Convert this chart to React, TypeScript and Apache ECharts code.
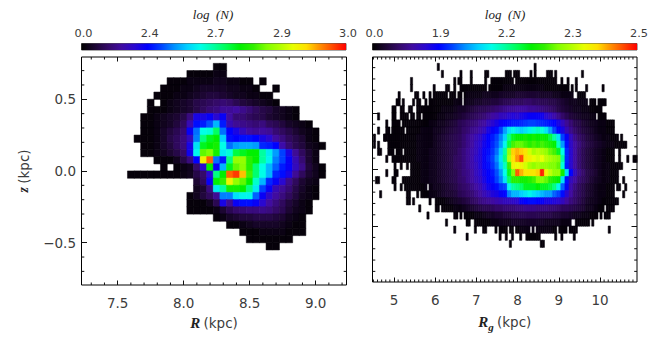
import React, { useEffect, useRef } from "react";
import * as echarts from "echarts";

// Colour table, evenly spaced over the colour bar (0..100 % of its length)
const palette = [
  "#000000", "#1c0632", "#340a68", "#400ca0", "#2a08d0", "#0000ff", "#0040ff",
  "#0090ff", "#00d0ff", "#00ffe8", "#00ffa0", "#00ff50", "#00f000", "#30f000",
  "#80ff00", "#b0ff00", "#e8ff00", "#ffe000", "#ff9000", "#ff4800", "#ff0000",
];

const barPositions = [0, 0.25, 0.5, 0.75, 1];
const leftBarLabels = ["0.0", "2.4", "2.7", "2.9", "3.0"];
const rightBarLabels = ["0.0", "1.9", "2.2", "2.3", "2.5"];

const leftXTicks = [7.5, 8, 8.5, 9];
const leftXMinor = [7.3, 7.4, 7.6, 7.7, 7.8, 7.9, 8.1, 8.2, 8.3, 8.4, 8.6, 8.7, 8.8, 8.9, 9.1, 9.2];
const leftYTicks = [-0.5, 0, 0.5];
const leftYMinor = [-0.7, -0.6, -0.4, -0.3, -0.2, -0.1, 0.1, 0.2, 0.3, 0.4, 0.6, 0.7];
const rightXTicks = [5, 6, 7, 8, 9, 10];
const rightXMinor = [
  4.5, 4.6, 4.7, 4.8, 4.9, 5.1, 5.2, 5.3, 5.4, 5.5, 5.6, 5.7, 5.8, 5.9, 6.1, 6.2, 6.3, 6.4, 6.5, 6.6,
  6.7, 6.8, 6.9, 7.1, 7.2, 7.3, 7.4, 7.5, 7.6, 7.7, 7.8, 7.9, 8.1, 8.2, 8.3, 8.4, 8.5, 8.6, 8.7, 8.8,
  8.9, 9.1, 9.2, 9.3, 9.4, 9.5, 9.6, 9.7, 9.8, 9.9, 10.1, 10.2, 10.3, 10.4, 10.5, 10.6, 10.7, 10.8,
];
const rightYTicks = [-0.4, 0, 0.4];
const rightYMinor = [-0.72, -0.64, -0.56, -0.48, -0.32, -0.24, -0.16, -0.08, 0.08, 0.16, 0.24, 0.32, 0.48, 0.56, 0.64, 0.72];

// Left panel: R cell centres step 0.05 kpc, z rows 0.05 kpc (value = % of colour bar)
const leftZTop = [0.75, 0.7, 0.65, 0.6, 0.55, 0.5, 0.45, 0.4, 0.35, 0.3, 0.25, 0.2, 0.15, 0.1, 0.05, 0, -0.05, -0.1, -0.15, -0.2, -0.25, -0.3, -0.35, -0.4, -0.45, -0.5];
const leftStart = [8.25, 8.05, 7.9, 7.85, 7.8, 7.75, 7.75, 7.7, 7.7, 7.7, 7.65, 7.7, 7.7, 7.8, 7.85, 7.6, 8.1, 8.1, 8.05, 8.05, 8.05, 8.25, 8.35, 8.45, 8.5, 8.65];
const leftRows: (number | null)[][] = [
  [1, 1],
  [1, 1, 1, 1, 2, 2],
  [1, 1, 1, 2, 2, 2, 2, 3, 3, 2, 2, 1, 1, null, 1],
  [1, 1, 1, 2, 2, 3, 4, 4, 4, 4, 3, 3, 2, 2, 1, null, null, 1],
  [1, 1, 1, 2, 2, 3, 4, 5, 6, 6, 5, 4, 3, 3, 2, 2, 1, 1],
  [1, null, 1, 2, 3, 4, 5, 7, 8, 9, 10, 11, 10, 8, 6, 5, 4, 3, 2, 1],
  [1, 1, 1, 2, 3, 4, 5, 7, 9, 11, 12, 14, 14, 15, 13, 11, 9, 7, 6, 4, 3, 2, 1],
  [1, 1, 2, 3, 4, 5, 7, 12, 22, 22, 24, 20, 24, 15, 11, 11, 9, 8, 7, 5, 4, 3, 2, 1],
  [1, 1, 2, 3, 4, 6, 9, 17, 26, 27, 31, 38, 27, 17, 14, 13, 12, 11, 12, 9, 8, 6, 4, 3, 2, 1],
  [1, 1, 2, 4, 6, 8, 11, 24, 33, 45, 46, 54, 33, 25, 22, 18, 15, 14, 15, 14, 11, 9, 7, 5, 3, 2, 1],
  [1, 1, 1, 2, 4, 7, 9, 12, 18, 34, 52, 58, 60, 40, 26, 25, 26, 26, 25, 22, 20, 15, 12, 9, 7, 5, 2, 1],
  [1, 1, 2, 4, 6, 9, 12, 22, 42, 58, 60, 62, 45, 33, 36, 37, 37, 36, 28, 27, 25, 16, 11, 8, 6, 3, 2, 1],
  [1, 1, 2, 3, 5, 7, 10, 23, 44, 68, 70, 62, 43, 46, 56, 58, 60, 60, 50, 43, 36, 30, 22, 14, 9, 5, 2],
  [1, 1, 1, 3, 7, 12, 25, 82, 93, 33, 27, 52, 72, 72, 64, 60, 50, 44, 34, 30, 24, 17, 11, 5, 2],
  [1, null, 1, 2, 3, 10, 20, 60, 24, 38, 58, 68, 71, 64, 53, 45, 38, 32, 27, 24, 18, 13, 6, 3, 1],
  [1, 1, 1, 1, 1, 1, 1, 1, 2, 3, 7, 10, 20, 52, 60, 93, 96, 87, 66, 53, 45, 38, 28, 26, 22, 14, 9, 5, 3, 1],
  [5, 9, 24, 60, 65, 82, 72, 68, 60, 47, 38, 28, 24, 20, 13, 9, 5, 3, 2],
  [3, 5, 12, 43, 50, 62, 62, 60, 52, 43, 30, 24, 17, 14, 11, 7, 4, 2, 1],
  [1, 3, 6, 9, 14, 34, 34, 42, 44, 44, 32, 24, 19, 15, 12, 9, 6, 3, 2, 1],
  [1, 1, 1, 3, 8, 22, 14, 24, 26, 26, 24, 20, 15, 12, 9, 6, 4, 2, 1],
  [1, 1, 1, 1, 2, 5, 8, 10, 11, 12, 12, 13, 12, 10, 8, 5, 3, 2, 1],
  [1, 2, 4, 5, 6, 6, 7, 7, 7, 6, 5, 3, 2, 1],
  [1, 1, 2, 3, 4, 4, 4, 4, 3, 2, 1, 1],
  [1, 1, 1, 2, 2, 2, 2, 1, 1, 1],
  [1, 1, 1, 1, 1, 1, 1],
  [1, 1],
];

// Right panel, solid body: Rg cell centres step 0.1 kpc, z rows 0.05 kpc
const rightZTop = [0.65, 0.6, 0.55, 0.5, 0.45, 0.4, 0.35, 0.3, 0.25, 0.2, 0.15, 0.1, 0.05, 0, -0.05, -0.1, -0.15, -0.2, -0.25, -0.3, -0.35, -0.4];
const rightStart = [7.4, 6.7, 6.0, 5.9, 5.7, 5.2, 5.0, 5.0, 4.8, 4.9, 4.9, 5.0, 5.5, 5.5, 5.4, 5.3, 5.7, 6.1, 6.2, 6.8, 7.0, 7.6];
const rightRows: number[][] = [
  [1, 1, 1, 1, 1, 1, 1, 1, 1, 1, 1, 1, 1, 1, 1, 1],
  [1, 1, 1, 1, 1, 1, 1, 1, 1, 1, 2, 2, 2, 2, 2, 2, 2, 2, 2, 2, 1, 1, 1, 1, 1, 1],
  [1, 1, 1, 1, 1, 1, 1, 1, 2, 2, 2, 2, 3, 3, 3, 3, 4, 4, 4, 4, 5, 5, 5, 5, 5, 5, 4, 4, 4, 3, 3, 2, 2, 2, 1, 1, 1],
  [1, 1, 1, 1, 1, 1, 2, 2, 2, 3, 3, 4, 4, 5, 5, 6, 6, 7, 8, 8, 9, 9, 9, 10, 10, 9, 9, 8, 8, 7, 7, 6, 5, 4, 3, 3, 2, 2, 2, 1, 1, 1, 1],
  [1, 1, 1, 1, 1, 2, 2, 2, 3, 4, 4, 5, 6, 7, 8, 8, 9, 10, 11, 12, 13, 14, 14, 15, 15, 15, 14, 14, 13, 12, 11, 10, 9, 7, 6, 5, 4, 3, 3, 2, 2, 1, 1, 1],
  [1, 1, 1, 1, 1, 1, 1, 1, 1, 2, 2, 3, 3, 4, 5, 6, 7, 8, 9, 10, 11, 13, 15, 16, 18, 18, 20, 21, 20, 22, 23, 24, 24, 24, 23, 20, 18, 16, 13, 10, 8, 6, 5, 4, 3, 3, 2, 2, 1, 1],
  [1, 1, 1, 1, 1, 1, 1, 1, 1, 2, 2, 3, 3, 4, 5, 6, 8, 9, 10, 11, 12, 14, 15, 18, 20, 22, 24, 25, 26, 27, 27, 28, 29, 30, 30, 29, 28, 27, 26, 25, 22, 18, 14, 11, 8, 7, 5, 4, 3, 3, 2, 2, 1, 1],
  [1, 1, 1, 1, 1, 1, 1, 2, 2, 2, 3, 3, 4, 5, 6, 7, 8, 10, 11, 13, 14, 16, 18, 22, 24, 26, 30, 36, 42, 44, 42, 40, 42, 44, 46, 48, 46, 42, 36, 30, 25, 22, 17, 13, 10, 8, 6, 5, 4, 3, 2, 2, 1, 1],
  [1, 1, 1, 1, 1, 1, 1, 1, 2, 2, 2, 2, 3, 4, 5, 6, 7, 8, 9, 11, 13, 15, 17, 19, 22, 25, 27, 30, 34, 40, 52, 58, 60, 60, 62, 60, 62, 60, 61, 60, 56, 50, 42, 30, 24, 18, 13, 10, 8, 6, 5, 4, 3, 2, 2, 1, 1],
  [1, 1, 1, 1, 1, 1, 1, 2, 2, 2, 2, 3, 4, 5, 6, 7, 8, 9, 11, 13, 15, 18, 20, 23, 25, 28, 31, 36, 44, 56, 66, 68, 68, 66, 64, 66, 64, 66, 64, 62, 60, 48, 36, 26, 19, 15, 12, 9, 7, 6, 5, 4, 3, 2, 2, 1, 1, 1],
  [1, 1, 1, 1, 1, 1, 1, 2, 2, 2, 3, 3, 4, 5, 6, 7, 8, 10, 12, 14, 16, 18, 21, 24, 26, 29, 33, 40, 50, 72, 86, 88, 86, 84, 78, 74, 76, 74, 72, 68, 66, 58, 45, 28, 20, 15, 11, 8, 6, 5, 4, 3, 2, 1, 1],
  [1, 1, 1, 1, 1, 1, 2, 2, 2, 3, 3, 4, 5, 6, 7, 9, 10, 12, 14, 16, 19, 21, 24, 27, 30, 35, 42, 52, 75, 85, 90, 95, 84, 82, 80, 78, 80, 76, 74, 72, 70, 50, 28, 20, 15, 11, 8, 6, 5, 4, 3, 2, 1, 1],
  [1, 1, 2, 2, 3, 3, 4, 5, 6, 7, 9, 10, 12, 14, 16, 18, 21, 24, 26, 29, 33, 40, 48, 65, 82, 80, 82, 78, 74, 72, 74, 72, 72, 70, 70, 68, 46, 27, 20, 15, 11, 8, 6, 5, 4, 3, 2, 2, 1, 1, 1],
  [1, 1, 2, 2, 3, 3, 4, 5, 6, 7, 8, 10, 12, 13, 15, 18, 20, 23, 25, 27, 31, 36, 45, 58, 70, 94, 88, 84, 84, 84, 86, 98, 82, 76, 72, 72, 62, 42, 25, 18, 13, 10, 7, 6, 5, 3, 2, 2, 1, 1],
  [1, 1, 1, 2, 2, 3, 3, 4, 5, 6, 7, 8, 10, 11, 13, 15, 17, 19, 22, 25, 26, 30, 34, 42, 54, 64, 64, 62, 62, 64, 66, 70, 70, 68, 64, 62, 60, 42, 26, 18, 15, 11, 9, 7, 5, 4, 3, 2, 2, 1, 1],
  [1, 1, 1, 1, 1, 2, 2, 3, 3, 4, 5, 6, 7, 9, 10, 11, 13, 15, 17, 20, 23, 24, 26, 29, 30, 44, 50, 52, 54, 58, 58, 58, 60, 58, 58, 56, 52, 44, 32, 24, 16, 12, 9, 7, 5, 4, 3, 2, 2, 1, 1],
  [1, 1, 2, 2, 3, 4, 5, 5, 6, 8, 9, 10, 11, 13, 15, 17, 19, 21, 22, 24, 25, 34, 38, 38, 40, 42, 44, 42, 40, 38, 36, 36, 32, 30, 26, 20, 15, 11, 9, 7, 5, 4, 3, 2, 2, 1, 1],
  [1, 1, 2, 3, 4, 5, 6, 7, 9, 10, 12, 13, 14, 15, 16, 17, 18, 18, 19, 20, 24, 25, 26, 26, 25, 24, 22, 22, 21, 20, 18, 15, 12, 10, 8, 6, 4, 3, 3, 2, 1, 1, 1, 1],
  [1, 1, 1, 2, 2, 3, 4, 5, 6, 7, 8, 8, 9, 10, 10, 11, 11, 11, 12, 12, 13, 13, 13, 12, 12, 12, 11, 11, 10, 9, 9, 8, 7, 6, 5, 3, 3, 2, 1, 1, 1, 1],
  [1, 1, 2, 2, 3, 4, 4, 5, 5, 6, 6, 7, 7, 8, 8, 8, 8, 8, 7, 7, 7, 6, 6, 5, 5, 4, 3, 3, 2, 2, 1, 1, 1, 1, 1],
  [1, 1, 1, 1, 2, 2, 3, 3, 3, 4, 4, 4, 4, 4, 4, 4, 4, 3, 3, 3, 3, 2, 2, 2, 1, 1, 1, 1, 1],
  [1, 1, 1, 1, 1, 2, 2, 2, 2, 2, 2, 2, 2, 1, 1, 1, 1, 1, 1],
];

// Right panel: white slits inside the body [z top, Rg left edges]
const rightHoleZ = [0.65, 0.6, 0.55, 0.5, 0.4, 0.35, 0.3, 0.15, -0.1, -0.25, -0.3, -0.35, -0.4];
const rightHoleRg = [
  [7.9],
  [7.25],
  [6.3, 6.5, 6.65, 9.35, 9.4],
  [6.65, 9.7, 9.9],
  [5.35, 5.5, 5.65, 9.9],
  [5.15],
  [5.25],
  [5.0, 5.2],
  [5.8],
  [10.1],
  [9.95, 10.05],
  [9.3, 9.35, 9.75],
  [7.75, 7.9, 8.3, 8.4, 8.95, 9.2],
];

// Right panel: isolated narrow cells outside the body [z top, Rg left edges]
const rightSpeckZ = [0.75, 0.7, 0.65, 0.6, 0.55, 0.5, 0.45, 0.4, 0.35, 0.3, 0.25, 0.2, 0.15, 0.1, 0.05, 0, -0.05, -0.1, -0.15, -0.2, -0.25, -0.3, -0.35, -0.4, -0.45, -0.5];
const rightSpeckRg = [
  [6.05, 8.4],
  [6.15, 6.6, 6.85, 7.2, 7.25, 7.7, 7.75, 7.8, 7.9, 7.95, 8.0, 8.3, 8.4, 8.7, 8.75, 8.8, 8.9, 9.55],
  [5.4, 6.45, 6.55, 6.6, 6.85, 7.2, 9.05, 9.2, 9.4],
  [5.4, 5.95, 6.25, 6.3, 6.45, 6.6, 9.3, 9.4, 9.65, 10.05],
  [5.1, 5.5, 5.55, 5.7, 5.85],
  [5.05, 5.1, 5.2, 5.45, 5.55, 5.6, 5.75],
  [4.95, 5.0, 5.15, 5.2, 5.35, 5.4, 5.55, 5.6],
  [4.6, 4.95, 5.0],
  [4.8],
  [4.6, 4.8, 4.85, 4.95],
  [4.5, 4.75, 10.5],
  [4.5, 4.6],
  [4.6, 4.65, 10.45],
  [4.8, 10.45, 10.65, 10.8, 10.85],
  [5.0, 5.15, 5.3, 5.4],
  [4.8, 5.0, 5.05, 5.4],
  [4.55, 4.6, 4.95, 5.0, 5.2, 5.25, 5.3, 10.55],
  [5.0, 5.15, 10.4, 10.45, 10.6],
  [4.65, 5.3, 5.35, 5.55, 10.55],
  [5.3, 5.35, 5.45, 5.85, 6.0],
  [5.6, 6.0, 6.05],
  [5.8, 6.45, 6.5, 6.6, 6.7],
  [6.25, 6.75, 6.8],
  [6.45, 6.95, 7.15, 7.2, 7.45, 10.2],
  [6.75, 7.55, 7.7, 7.85, 8.05, 8.2, 8.25, 8.3, 8.35, 8.4, 8.45, 8.5, 8.9, 9.05, 9.35],
  [7.8, 8.55, 8.6],
];

const ROW_H = 0.05;
const CELL = 0.05;

function buildLeft() {
  const out: number[][] = [];
  leftRows.forEach((row, r) => {
    row.forEach((v, i) => {
      if (v !== null) out.push([leftStart[r] + i * CELL, leftZTop[r], v, CELL]);
    });
  });
  return out;
}

function buildRight() {
  const key = (rg: number, z: number) => `${Math.round(rg * 20)}_${Math.round(z * 20)}`;
  const holes = new Set<string>();
  rightHoleZ.forEach((z, r) => rightHoleRg[r].forEach((rg) => holes.add(key(rg, z))));
  const out: number[][] = [];
  rightRows.forEach((row, r) => {
    row.forEach((v, i) => {
      const c = rightStart[r] + i * 0.1;
      [c - CELL, c].forEach((edge) => {
        if (!holes.has(key(edge, rightZTop[r]))) out.push([edge + CELL / 2, rightZTop[r], v, CELL]);
      });
    });
  });
  rightSpeckZ.forEach((z, r) => {
    rightSpeckRg[r].forEach((rg) => out.push([rg + CELL / 2, z, 1, CELL]));
  });
  return out;
}

const renderCell = (_: any, api: any) => {
  const x = api.value(0);
  const z = api.value(1);
  const w = api.value(3);
  const a = api.coord([x - w / 2, z]);
  const b = api.coord([x + w / 2, z - ROW_H]);
  const color = api.visual("color");
  return {
    type: "rect",
    shape: { x: a[0] - 0.1, y: a[1] - 0.1, width: b[0] - a[0] + 0.2, height: b[1] - a[1] + 0.2 },
    style: { fill: color, stroke: color, lineWidth: 0.5 },
  };
};

const renderMinorX = (len: number) => (params: any, api: any) => {
  const [lo, hi] = [params.coordSys.y, params.coordSys.y + params.coordSys.height];
  const px = api.coord([api.value(0), 0])[0];
  const style = { stroke: "#111", lineWidth: 1, fill: "none" };
  return {
    type: "group",
    children: [
      { type: "line", shape: { x1: px, y1: hi, x2: px, y2: hi - len }, style },
      { type: "line", shape: { x1: px, y1: lo, x2: px, y2: lo + len }, style },
    ],
  };
};

const renderMinorY = (len: number) => (params: any, api: any) => {
  const [lo, hi] = [params.coordSys.x, params.coordSys.x + params.coordSys.width];
  const py = api.coord([0, api.value(1)])[1];
  const style = { stroke: "#111", lineWidth: 1, fill: "none" };
  return {
    type: "group",
    children: [
      { type: "line", shape: { x1: lo, y1: py, x2: lo + len, y2: py }, style },
      { type: "line", shape: { x1: hi, y1: py, x2: hi - len, y2: py }, style },
    ],
  };
};

const renderBar = (params: any) => {
  const c = params.coordSys;
  return {
    type: "rect",
    shape: { x: c.x, y: c.y, width: c.width, height: c.height },
    style: {
      fill: new echarts.graphic.LinearGradient(
        0, 0, 1, 0,
        palette.map((color, i) => ({ offset: i / (palette.length - 1), color })),
      ),
    },
  };
};

const numFont = "DejaVu Sans";
const serif = "Liberation Serif";
const tickColor = "#111";
const labelColor = "#3c3c3c";
const noLine = { show: false, onZero: false };

const nameRich = {
  i: { fontFamily: serif, fontStyle: "italic", fontWeight: "bold", fontSize: 15, color: "#222" },
  s: { fontFamily: serif, fontStyle: "italic", fontWeight: "bold", fontSize: 11, color: "#222", padding: [9, 0, 0, 0] },
  t: { fontFamily: numFont, fontSize: 13.5, color: labelColor },
};

function xAxes(grid: number, min: number, max: number, ticks: number[], digits: number, name: string) {
  const base = { type: "value", gridIndex: grid, min, max, splitLine: { show: false }, axisLine: noLine };
  return [
    {
      ...base,
      position: "bottom",
      axisTick: { show: true, inside: true, length: 4.5, customValues: ticks, lineStyle: { color: tickColor, width: 1 } },
      axisLabel: {
        show: true,
        customValues: ticks,
        margin: 11,
        fontFamily: numFont,
        fontSize: 13.5,
        color: labelColor,
        formatter: (v: number) => v.toFixed(digits),
      },
      name,
      nameLocation: "middle",
      nameGap: 30,
      nameTextStyle: { rich: nameRich },
    },
    {
      ...base,
      position: "top",
      axisTick: { show: true, inside: true, length: 4.5, customValues: ticks, lineStyle: { color: tickColor, width: 1 } },
      axisLabel: { show: false },
    },
  ];
}

function yAxes(grid: number, ticks: number[], labelled: boolean) {
  const base = { type: "value", gridIndex: grid, min: -0.795, max: 0.795, splitLine: { show: false }, axisLine: noLine };
  return [
    {
      ...base,
      position: "left",
      axisTick: { show: true, inside: true, length: 5.5, customValues: ticks, lineStyle: { color: tickColor, width: 1 } },
      axisLabel: labelled
        ? {
            show: true,
            customValues: ticks,
            margin: 5.5,
            fontFamily: numFont,
            fontSize: 13.5,
            color: labelColor,
            formatter: (v: number) => v.toFixed(1).replace("-", "\u2212"),
          }
        : { show: false },
      ...(labelled
        ? { name: "{s|z} {t|(kpc)}", nameLocation: "middle", nameGap: 51, nameRotate: 90, nameTextStyle: { rich: { ...nameRich, s: { ...nameRich.i, fontSize: 14 } } } }
        : {}),
    },
    {
      ...base,
      position: "right",
      axisTick: { show: true, inside: true, length: 5.5, customValues: ticks, lineStyle: { color: tickColor, width: 1 } },
      axisLabel: { show: false },
    },
  ];
}

function barX(grid: number, labels: string[]) {
  return {
    type: "value",
    gridIndex: grid,
    position: "top",
    min: 0,
    max: 1,
    splitLine: { show: false },
    axisLine: noLine,
    axisTick: { show: false },
    axisLabel: {
      show: true,
      customValues: barPositions,
      margin: 5,
      fontFamily: numFont,
      fontSize: 11.3,
      color: labelColor,
      padding: [0, 0, 0, 4],
      formatter: (v: number) => labels[barPositions.indexOf(v)],
    },
  };
}

function barY(grid: number) {
  return { type: "value", gridIndex: grid, min: 0, max: 1, show: false };
}

export default function App() {
  const ref = useRef<HTMLDivElement>(null);
  useEffect(() => {
    if (!ref.current) return;
    const chart = echarts.init(ref.current, undefined, { renderer: "svg" });
    const logStyle = { fontFamily: serif, fontStyle: "italic", fontWeight: "normal", fontSize: 13, color: "#222" };
    chart.setOption({
      animation: false,
      backgroundColor: "#ffffff",
      title: [
        { text: "log  (N)", left: 213, top: 8, textAlign: "center", padding: 0, textStyle: logStyle },
        { text: "log  (N)", left: 505, top: 8, textAlign: "center", padding: 0, textStyle: logStyle },
      ],
      grid: [
        { show: true, left: 81.5, top: 57, width: 265, height: 228, borderColor: "#000", borderWidth: 1, backgroundColor: "#fff" },
        { show: true, left: 372.5, top: 57, width: 264.5, height: 228, borderColor: "#000", borderWidth: 1, backgroundColor: "#fff" },
        { show: true, left: 81.5, top: 43.5, width: 264.5, height: 6.5, borderColor: "#555", borderWidth: 1, backgroundColor: "#fff" },
        { show: true, left: 372.5, top: 43.5, width: 264.5, height: 6.5, borderColor: "#555", borderWidth: 1, backgroundColor: "#fff" },
      ],
      xAxis: [
        ...xAxes(0, 7.226, 9.2336, leftXTicks, 1, "{i|R} {t|(kpc)}"),
        ...xAxes(1, 4.478, 10.898, rightXTicks, 0, "{i|R}{s|g} {t|(kpc)}"),
        barX(2, leftBarLabels),
        barX(3, rightBarLabels),
      ],
      yAxis: [...yAxes(0, leftYTicks, true), ...yAxes(1, rightYTicks, false), barY(2), barY(3)],
      visualMap: {
        type: "continuous",
        show: false,
        min: 0,
        max: 100,
        dimension: 2,
        seriesIndex: [0, 1],
        inRange: { color: palette },
      },
      series: [
        { type: "custom", coordinateSystem: "cartesian2d", xAxisIndex: 0, yAxisIndex: 0, renderItem: renderCell, data: buildLeft(), progressive: 0, silent: true },
        { type: "custom", coordinateSystem: "cartesian2d", xAxisIndex: 2, yAxisIndex: 2, renderItem: renderCell, data: buildRight(), progressive: 0, silent: true },
        { type: "custom", coordinateSystem: "cartesian2d", xAxisIndex: 0, yAxisIndex: 0, renderItem: renderMinorX(2.5), data: leftXMinor.map((v) => [v, 0]), encode: { x: 0, y: 1 }, silent: true },
        { type: "custom", coordinateSystem: "cartesian2d", xAxisIndex: 0, yAxisIndex: 0, renderItem: renderMinorY(2.8), data: leftYMinor.map((v) => [8, v]), encode: { x: 0, y: 1 }, silent: true },
        { type: "custom", coordinateSystem: "cartesian2d", xAxisIndex: 2, yAxisIndex: 2, renderItem: renderMinorX(2.5), data: rightXMinor.map((v) => [v, 0]), encode: { x: 0, y: 1 }, silent: true },
        { type: "custom", coordinateSystem: "cartesian2d", xAxisIndex: 2, yAxisIndex: 2, renderItem: renderMinorY(2.8), data: rightYMinor.map((v) => [8, v]), encode: { x: 0, y: 1 }, silent: true },
        { type: "custom", coordinateSystem: "cartesian2d", xAxisIndex: 4, yAxisIndex: 4, renderItem: renderBar, data: [[0.5, 0.5]], silent: true },
        { type: "custom", coordinateSystem: "cartesian2d", xAxisIndex: 5, yAxisIndex: 5, renderItem: renderBar, data: [[0.5, 0.5]], silent: true },
      ],
    });
    return () => chart.dispose();
  }, []);
  return <div ref={ref} style={{ position: "fixed", left: 0, top: 0, width: 661, height: 337, background: "#fff" }} />;
}
